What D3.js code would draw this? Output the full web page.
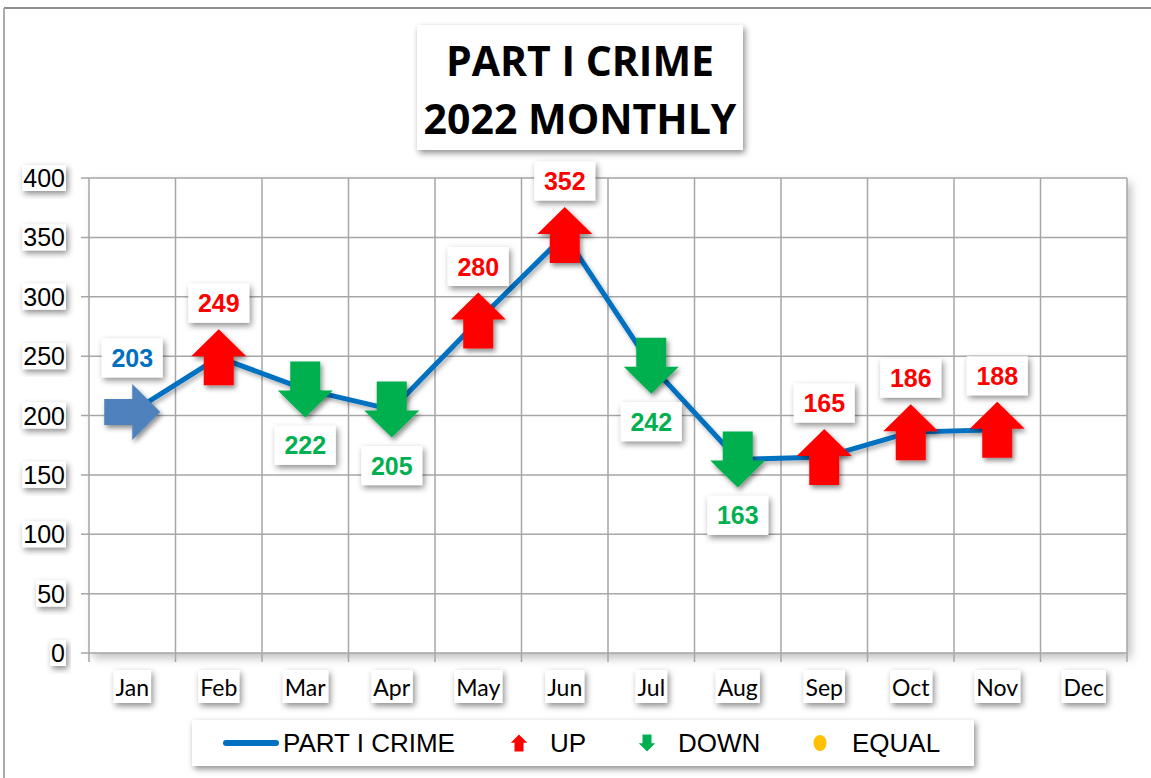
<!DOCTYPE html>
<html>
<head>
<meta charset="utf-8">
<script src="https://cdn.jsdelivr.net/npm/d3@7/dist/d3.min.js"></script>
<style>
  html, body { margin: 0; padding: 0; background: #fff; }
  svg { display: block; }
</style>
</head>
<body>
<svg id="chart" width="1151" height="778"></svg>
<script>
// ---- data ----
const months = ["Jan","Feb","Mar","Apr","May","Jun","Jul","Aug","Sep","Oct","Nov","Dec"];
const crimeValues = [203, 249, 222, 205, 280, 352, 242, 163, 165, 186, 188];
const trend = ["start","up","down","down","up","up","down","down","up","up","up"];
const yTicks = [0, 50, 100, 150, 200, 250, 300, 350, 400];
const titleLines = ["PART I CRIME", "2022 MONTHLY"];
const legendItems = ["PART I CRIME", "UP", "DOWN", "EQUAL"];

// ---- styles ----
const colors = { line: "#0070c0", up: "#ff0000", down: "#00b050", start: "#4f81bd", equal: "#ffc000", grid: "#a6a6a6" };
const labelColors = { start: "#0070c0", up: "#ff0000", down: "#00b050" };

const svg = d3.select("#chart");
const defs = svg.append("defs");
function shadow(id, dx, dy, sd, op) {
  const f = defs.append("filter").attr("id", id).attr("x", "-30%").attr("y", "-30%").attr("width", "160%").attr("height", "160%");
  f.append("feDropShadow").attr("dx", dx).attr("dy", dy).attr("stdDeviation", sd)
    .attr("flood-color", "#000").attr("flood-opacity", op);
}
shadow("sh", 2, 3, 2.5, 0.45);
shadow("shLine", 2, 3, 2, 0.3);
shadow("shBox", 2, 3, 3, 0.45);
shadow("shPlot", 4, 5, 5, 0.25);

// outer border
svg.append("line").attr("x1", 4).attr("x2", 1151).attr("y1", 8).attr("y2", 8).attr("stroke", "#8c8c8c").attr("stroke-width", 2);
svg.append("line").attr("x1", 4).attr("x2", 4).attr("y1", 8).attr("y2", 778).attr("stroke", "#ababab").attr("stroke-width", 2);

const x = d3.scaleBand().domain(months).range([89, 1127]);
const y = d3.scaleLinear().domain([0, 400]).range([653, 178]);
const cx = i => x(months[i]) + x.bandwidth() / 2;

// plot area shadow
svg.append("rect").attr("x", 89).attr("y", 178).attr("width", 1127 - 89).attr("height", 653 - 178)
  .attr("fill", "#fff").attr("filter", "url(#shPlot)");

// grid
const g = svg.append("g");
g.selectAll("line.h").data(yTicks).join("line")
  .attr("x1", 81).attr("x2", 1127).attr("y1", d => y(d)).attr("y2", d => y(d))
  .attr("stroke", colors.grid).attr("stroke-width", 1.5);
const vx = months.map(m => x(m)).concat([x(months[months.length - 1]) + x.bandwidth()]);
g.selectAll("line.v").data(vx).join("line")
  .attr("x1", d => d).attr("x2", d => d).attr("y1", 178).attr("y2", 662)
  .attr("stroke", colors.grid).attr("stroke-width", 1.5);

// y tick labels with boxes
const yl = svg.append("g");
yTicks.forEach(t => {
  const gg = yl.append("g");
  const txt = gg.append("text").attr("x", 65).attr("y", y(t)).attr("dy", "0.36em")
    .attr("text-anchor", "end").attr("font-family", "Liberation Sans, Arial, sans-serif")
    .attr("font-size", 25).attr("fill", "#000").text(t);
  const b = txt.node().getBBox();
  gg.insert("rect", "text").attr("x", b.x - 1).attr("y", b.y + 1).attr("width", b.width + 2).attr("height", b.height - 2)
    .attr("fill", "#fff").attr("filter", "url(#shBox)");
});

// x tick labels with boxes
const xl = svg.append("g");
months.forEach((m, i) => {
  const gg = xl.append("g");
  const txt = gg.append("text").attr("x", cx(i)).attr("y", 688).attr("dy", "0.36em")
    .attr("text-anchor", "middle").attr("font-family", "Lato, Open Sans, sans-serif")
    .attr("font-size", 23).attr("fill", "#000").text(m);
  const b = txt.node().getBBox();
  gg.insert("rect", "text").attr("x", b.x - 2).attr("y", 670).attr("width", b.width + 4).attr("height", 33)
    .attr("fill", "#fff").attr("filter", "url(#shBox)");
});

// line
const line = d3.line().x((d, i) => cx(i)).y(d => y(d));
svg.append("path").datum(crimeValues).attr("d", line)
  .attr("fill", "none").attr("stroke", colors.line).attr("stroke-width", 5)
  .attr("stroke-linejoin", "round").attr("filter", "url(#shLine)");

// arrow shapes (relative to center)
function upArrow(s) {
  const hw = 27.5 * s, sw = 15 * s, h = 28 * s;
  return `M0,${-h} L${hw},${-h + 27 * s} L${sw},${-h + 27 * s} L${sw},${h} L${-sw},${h} L${-sw},${-h + 27 * s} L${-hw},${-h + 27 * s} Z`;
}
function downArrow(s) {
  const hw = 27.5 * s, sw = 15 * s, h = 28 * s;
  return `M0,${h} L${hw},${h - 27 * s} L${sw},${h - 27 * s} L${sw},${-h} L${-sw},${-h} L${-sw},${h - 27 * s} L${-hw},${h - 27 * s} Z`;
}
function rightArrow() {
  return "M28,0 L0,28 L0,13 L-28,13 L-28,-13 L0,-13 L0,-28 Z";
}

const marks = svg.append("g");
crimeValues.forEach((v, i) => {
  const t = trend[i];
  const d = t === "up" ? upArrow(1) : t === "down" ? downArrow(1) : rightArrow();
  marks.append("path").attr("d", d).attr("transform", `translate(${cx(i)},${y(v)})`)
    .attr("fill", colors[t]).attr("filter", "url(#sh)");
});

// value labels
const lab = svg.append("g");
crimeValues.forEach((v, i) => {
  const t = trend[i];
  const ly = t === "down" ? y(v) + 56 : y(v) - 54;
  const gg = lab.append("g");
  gg.append("rect").attr("x", cx(i) - 30.5).attr("y", ly - 19.5).attr("width", 61).attr("height", 39)
    .attr("fill", "#fff").attr("filter", "url(#shBox)");
  gg.append("text").attr("x", cx(i)).attr("y", ly).attr("dy", "0.36em").attr("text-anchor", "middle")
    .attr("font-family", "Liberation Sans, Arial, sans-serif").attr("font-weight", "bold")
    .attr("font-size", 25).attr("fill", labelColors[t]).text(v);
});

// title
const tg = svg.append("g");
tg.append("rect").attr("x", 417).attr("y", 25).attr("width", 326).attr("height", 125)
  .attr("fill", "#fff").attr("filter", "url(#shBox)");
titleLines.forEach((s, i) => {
  tg.append("text").attr("x", 580).attr("y", 61 + i * 58).attr("dy", "0.36em").attr("text-anchor", "middle")
    .attr("font-family", "Open Sans, sans-serif").attr("font-weight", "bold").attr("font-size", 41)
    .attr("fill", "#000").text(s);
});

// legend
const lg = svg.append("g");
lg.append("rect").attr("x", 192).attr("y", 720).attr("width", 782).attr("height", 46)
  .attr("fill", "#fff").attr("filter", "url(#shBox)");
const ly0 = 743;
lg.append("line").attr("x1", 226).attr("x2", 276).attr("y1", ly0).attr("y2", ly0)
  .attr("stroke", colors.line).attr("stroke-width", 6).attr("stroke-linecap", "round");
const legFont = t => t.attr("font-family", "Liberation Sans, Arial, sans-serif").attr("font-size", 26).attr("fill", "#000").attr("dy", "0.36em");
legFont(lg.append("text").attr("x", 283).attr("y", ly0).text(legendItems[0]));
lg.append("path").attr("d", upArrow(0.3)).attr("transform", `translate(519,${ly0})`).attr("fill", colors.up);
legFont(lg.append("text").attr("x", 550).attr("y", ly0).text(legendItems[1]));
lg.append("path").attr("d", downArrow(0.3)).attr("transform", `translate(647,${ly0})`).attr("fill", colors.down);
legFont(lg.append("text").attr("x", 678).attr("y", ly0).text(legendItems[2]));
lg.append("ellipse").attr("cx", 820).attr("cy", ly0).attr("rx", 6.5).attr("ry", 8).attr("fill", colors.equal);
legFont(lg.append("text").attr("x", 852).attr("y", ly0).text(legendItems[3]));
</script>
</body>
</html>
